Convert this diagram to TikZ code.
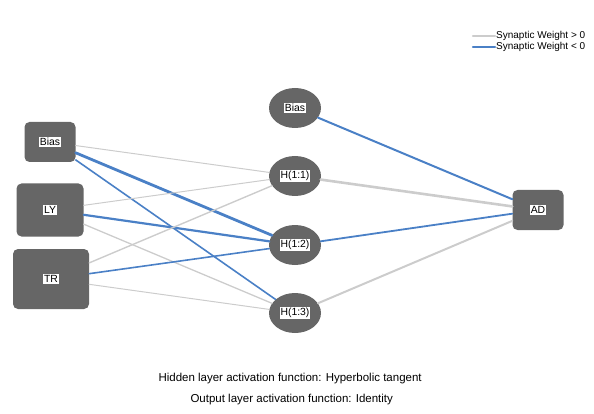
\documentclass[tikz,border=0pt]{standalone}
\usepackage{fontspec}
\setmainfont{Liberation Sans}
\usepackage{color}
\usetikzlibrary{shapes.geometric}
\definecolor{nodegray}{RGB}{102,102,102}
\definecolor{wpos}{RGB}{204,204,204}
\definecolor{wneg}{RGB}{74,128,198}
\newcommand{\wlab}[1]{{\setlength{\fboxsep}{1pt}\colorbox{white}{\textcolor{black}{#1}}}}

\begin{document}
\begin{tikzpicture}[x=1pt,y=-1pt,line cap=round,line join=round,
  inbox/.style={fill=nodegray,rounded corners=5pt,inner sep=0pt},
  hid/.style={ellipse,fill=nodegray,minimum width=52pt,minimum height=40pt,inner sep=0pt},
  wgtpos/.style={color=wpos},
  wgtneg/.style={color=wneg},
  font=\fontsize{10.4}{12}\selectfont]
\useasboundingbox (0,0) rectangle (594,414);
% input layer
\node[inbox,minimum width=51pt,minimum height=40pt] (ibias) at (50,142) {\wlab{Bias}};
\node[inbox,minimum width=67pt,minimum height=53pt] (ly) at (50,210) {\wlab{LY}};
\node[inbox,minimum width=76pt,minimum height=60pt] (tr) at (51,279) {\wlab{TR}};
% hidden layer
\node[hid] (hbias) at (295,108) {\wlab{Bias}};
\node[hid] (h11) at (295,176) {\wlab{H(1:1)}};
\node[hid] (h12) at (295,245) {\wlab{H(1:2)}};
\node[hid] (h13) at (295,313) {\wlab{H(1:3)}};
% output layer
\node[inbox,minimum width=51pt,minimum height=40pt] (ad) at (538,210) {\wlab{AD}};
% weights input -> hidden
\draw [wgtpos,line width=1pt] (ibias) -- (h11);
\draw [wgtneg,line width=2.8pt] (ibias) -- (h12);
\draw [wgtneg,line width=1.6pt] (ibias) -- (h13);
\draw [wgtpos,line width=1pt] (ly) -- (h11);
\draw [wgtneg,line width=2.2pt] (ly) -- (h12);
\draw [wgtpos,line width=1.3pt] (ly) -- (h13);
\draw [wgtpos,line width=1.4pt] (tr) -- (h11);
\draw [wgtneg,line width=1.6pt] (tr) -- (h12);
\draw [wgtpos,line width=1pt] (tr) -- (h13);
% weights hidden -> output
\draw [wgtneg,line width=2pt] (hbias) -- (ad);
\draw [wgtpos,line width=2.6pt] (h11) -- (ad);
\draw [wgtneg,line width=1.8pt] (h12) -- (ad);
\draw [wgtpos,line width=2pt] (h13) -- (ad);
% legend
\node[anchor=west,inner sep=1pt,font=\fontsize{10}{11}\selectfont] (lgpos) at (495,36) {Synaptic Weight > 0};
\node[anchor=west,inner sep=1pt,font=\fontsize{10}{11}\selectfont] (lgneg) at (495,47) {Synaptic Weight < 0};
\coordinate (lpa) at (473,36);
\coordinate (lna) at (473,47);
\draw [wgtpos,line width=2.2pt] (lpa) -- (lgpos.west);
\draw [wgtneg,line width=2.2pt] (lna) -- (lgneg.west);
% activation functions
\node[anchor=west,font=\fontsize{11.5}{13}\selectfont] (hfun) at (155,379) {Hidden layer activation function: Hyperbolic tangent};
\node[anchor=west,font=\fontsize{11.5}{13}\selectfont] (ofun) at (187,400) {Output layer activation function: Identity};
\end{tikzpicture}
\end{document}
